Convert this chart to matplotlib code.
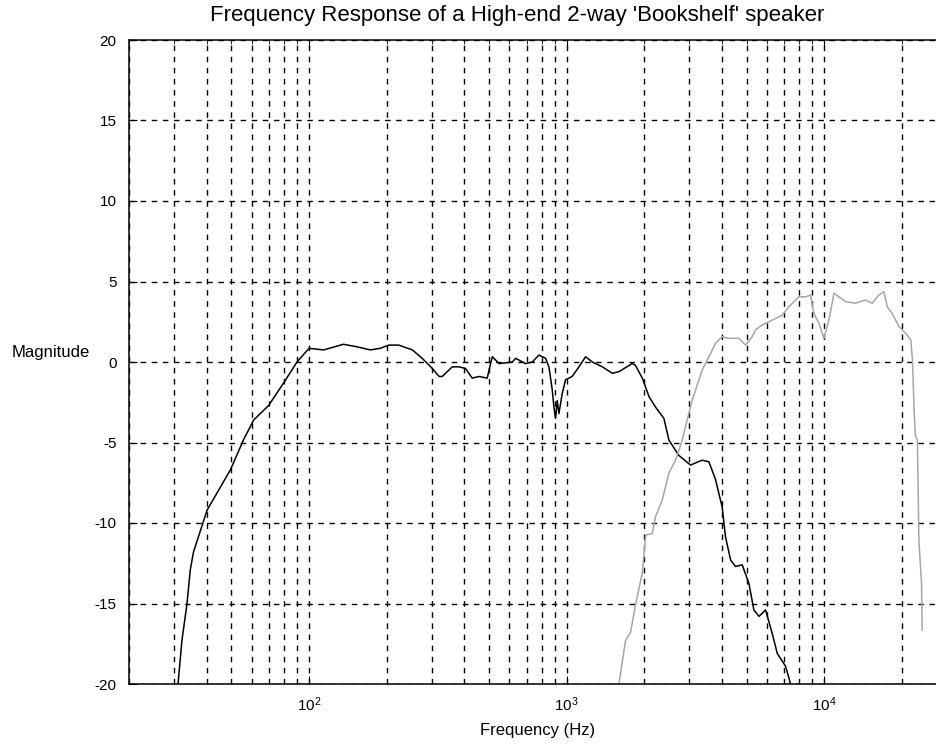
"""
Frequency response of a high-end 2-way bookshelf speaker (woofer + tweeter),
drawn in the old MATLAB style with a dashed log grid.
"""
import numpy as np
import matplotlib
matplotlib.use("Agg")
import matplotlib.pyplot as plt
from matplotlib.ticker import LogLocator, NullFormatter, MultipleLocator

# Data ------------------------------------------------------------------------

woofer_freq = [31, 32.1, 33.6, 34.6, 35.6, 40.2, 49.5, 55.8, 61, 69.7, 79.7,
               89.8, 100, 114, 136, 153, 173, 189, 204, 223, 252, 275, 301,
               320, 329, 360, 382, 405, 430, 457, 492, 500, 515, 547, 616,
               634, 693, 736, 781, 829, 854, 880, 893, 906, 920, 934, 962,
               991, 1051, 1117, 1186, 1259, 1377, 1505, 1597, 1798, 1850,
               1968, 2090, 2215, 2387, 2497, 2728, 3028, 3362, 3570, 3787,
               4018, 4140, 4335, 4530, 4808, 5104, 5337, 5585, 5926, 6285,
               6577, 7086, 7410]
woofer_db = [-20, -17.3, -15.0, -12.9, -11.8, -9.2, -6.7, -4.8, -3.6, -2.7,
             -1.3, 0, 0.85, 0.75, 1.1, 0.95, 0.75, 0.85, 1.05, 1.05, 0.75,
             0.23, -0.4, -0.9, -0.9, -0.3, -0.3, -0.4, -1.0, -0.9, -1.0,
             -0.5, 0.33, -0.1, 0, 0.23, -0.1, 0, 0.43, 0.23, -0.3, -1.74,
             -2.8, -3.5, -2.4, -3.2, -1.95, -1.1, -0.9, -0.3, 0.33, 0, -0.3,
             -0.7, -0.6, -0.1, -0.2, -1.0, -2.15, -2.8, -3.5, -4.85, -5.8,
             -6.4, -6.1, -6.2, -7.3, -9.0, -10.85, -12.3, -12.7, -12.6,
             -13.75, -15.4, -15.8, -15.4, -16.85, -18.1, -18.9, -20]

tweeter_freq = [1597, 1694, 1771, 1852, 1968, 2028, 2152, 2215, 2350, 2497,
                2650, 2812, 2897, 3076, 3362, 3570, 3787, 4018, 4267, 4667,
                4955, 5260, 5420, 5754, 6107, 6870, 7295, 7980, 8472, 8855,
                9128, 9550, 9980, 10440, 10920, 11410, 12110, 13240, 14480,
                15370, 16320, 17060, 17590, 18400, 19540, 20740, 21700,
                22030, 22380, 22630, 23030, 23330, 23890, 24030]
tweeter_db = [-20, -17.3, -16.8, -15.1, -13.1, -10.75, -10.65, -9.6, -8.6,
              -6.9, -6.1, -4.85, -4.0, -2.36, -0.5, 0.33, 1.16, 1.57, 1.47,
              1.47, 1.05, 1.57, 2.0, 2.3, 2.5, 2.9, 3.43, 4.05, 4.05, 4.16,
              3.0, 2.4, 1.47, 2.6, 4.27, 4.05, 3.75, 3.65, 3.85, 3.65, 4.16,
              4.37, 3.43, 3.0, 2.2, 1.78, 1.37, 0.12, -3.2, -4.6, -4.85,
              -11.05, -13.75, -16.65]

TITLE = "Frequency Response of a High-end 2-way 'Bookshelf' speaker"

# Plot ------------------------------------------------------------------------

plt.rcParams["font.family"] = ["Liberation Sans", "DejaVu Sans"]
plt.rcParams["axes.unicode_minus"] = False

fig = plt.figure(figsize=(9.36, 7.45), dpi=100)
# axes run past the right edge of the picture, as in the reference scan
ax = fig.add_axes([129 / 936, 1 - 684 / 745, 818 / 936, 644 / 745])

ax.plot(woofer_freq, woofer_db, color="black", lw=1.1)
ax.plot(tweeter_freq, tweeter_db, color="#a6a6a6", lw=1.1)

ax.set_xscale("log")
ax.set_xlim(20, 30000)
ax.set_ylim(-20, 20)
ax.yaxis.set_major_locator(MultipleLocator(5))
ax.xaxis.set_major_locator(LogLocator(base=10, numticks=10))
ax.xaxis.set_minor_locator(LogLocator(base=10, subs=np.arange(2, 10),
                                      numticks=20))
ax.xaxis.set_minor_formatter(NullFormatter())

grid_style = dict(color="black", linestyle=(0, (4, 4)), lw=1.0)
ax.grid(True, which="major", axis="both", **grid_style)
ax.grid(True, which="minor", axis="x", **grid_style)
ax.set_axisbelow(True)

ax.tick_params(which="both", direction="in", top=True, right=True,
               labelsize=11)
ax.tick_params(which="major", length=6)
ax.tick_params(which="minor", length=3)
ax.tick_params(axis="y", pad=9)
ax.tick_params(axis="x", pad=8)
for sp in ax.spines.values():
    sp.set_linewidth(1.1)

ax.set_title(TITLE, fontsize=16, x=(517 - 129) / 818, pad=14)
ax.set_xlabel("Frequency (Hz)", fontsize=12, labelpad=7)
ax.set_ylabel("Magnitude", fontsize=12, rotation=0, ha="center",
              va="center")
ax.yaxis.set_label_coords((51 - 129) / 818, (684 - 352) / 644)

fig.savefig("out.png", dpi=100)
